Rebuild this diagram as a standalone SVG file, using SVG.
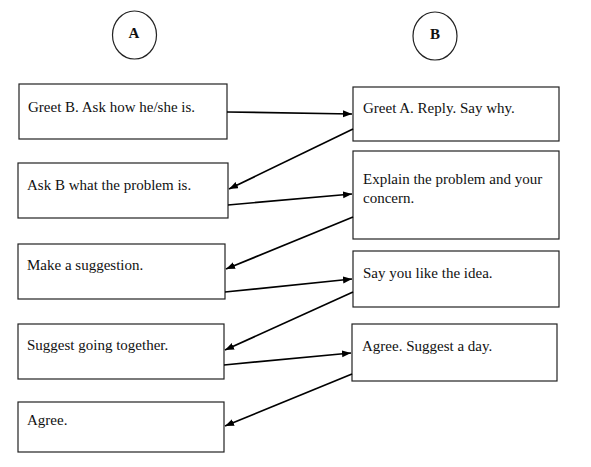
<svg xmlns="http://www.w3.org/2000/svg" width="591" height="467" viewBox="0 0 591 467">
<style>
.box{fill:#fff;stroke:#222;stroke-width:1.2}
.circ{fill:#fff;stroke:#222;stroke-width:1.2}
.t{font-family:"Liberation Serif","Times New Roman",serif;font-size:15px;fill:#111}
.h{font-family:"Liberation Serif","Times New Roman",serif;font-size:15px;font-weight:bold;fill:#111;text-anchor:middle}
.c{stroke:#000;stroke-width:1.7;fill:none;marker-end:url(#ah)}
</style>
<defs>
<marker id="ah" markerUnits="userSpaceOnUse" markerWidth="10" markerHeight="8" refX="9" refY="3.5" orient="auto">
<path d="M0,0 L9,3.5 L0,7 z" fill="#000"/>
</marker>
</defs>
<rect width="591" height="467" fill="#fff"/>
<g id="circleA"><ellipse class="circ" cx="134.5" cy="35" rx="22" ry="24"/><text class="h" x="134" y="38">A</text></g>
<g id="circleB"><ellipse class="circ" cx="435" cy="36" rx="22" ry="24"/><text class="h" x="435" y="39">B</text></g>
<g id="a1"><rect class="box" x="19" y="84" width="208" height="55"/><text class="t" x="28" y="112">Greet B. Ask how he/she is.</text></g>
<g id="b1"><rect class="box" x="353" y="87" width="206" height="54"/><text class="t" x="363" y="113">Greet A. Reply. Say why.</text></g>
<g id="a2"><rect class="box" x="18" y="163" width="210" height="55"/><text class="t" x="27" y="190">Ask B what the problem is.</text></g>
<g id="b2"><rect class="box" x="353" y="151" width="206" height="88"/><text class="t" x="363" y="184">Explain the problem and your</text><text class="t" x="363" y="203">concern.</text></g>
<g id="a3"><rect class="box" x="18" y="244" width="207" height="55"/><text class="t" x="27" y="270">Make a suggestion.</text></g>
<g id="b3"><rect class="box" x="353" y="251" width="206" height="56"/><text class="t" x="363" y="278">Say you like the idea.</text></g>
<g id="a4"><rect class="box" x="18" y="324" width="206" height="55"/><text class="t" x="27" y="350">Suggest going together.</text></g>
<g id="b4"><rect class="box" x="352" y="324" width="205" height="57"/><text class="t" x="362" y="351">Agree. Suggest a day.</text></g>
<g id="a5"><rect class="box" x="18" y="402" width="206" height="50"/><text class="t" x="27" y="425">Agree.</text></g>
<g id="connectors">
<line class="c" x1="227" y1="112" x2="352" y2="114"/>
<line class="c" x1="353" y1="129" x2="229" y2="189"/>
<line class="c" x1="228" y1="205" x2="352" y2="194"/>
<line class="c" x1="353" y1="217" x2="226" y2="269"/>
<line class="c" x1="225" y1="292" x2="352" y2="279"/>
<line class="c" x1="353" y1="292" x2="225" y2="350"/>
<line class="c" x1="224" y1="365" x2="351" y2="353"/>
<line class="c" x1="352" y1="374" x2="225" y2="426"/>
</g>
</svg>
